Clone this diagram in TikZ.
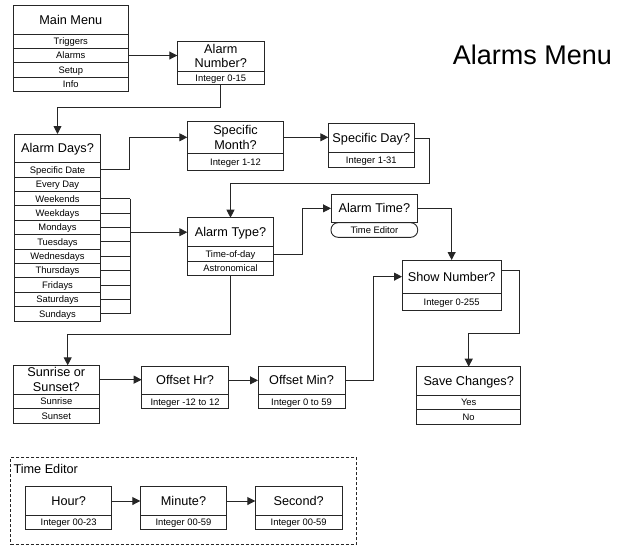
\documentclass[tikz,border=0pt]{standalone}
\usepackage{fontspec}
\setmainfont{Liberation Sans}
\usetikzlibrary{arrows.meta,calc}
\tikzset{
 base/.style={draw=black!85, line width=0.9pt, inner sep=0pt, outer sep=0pt, anchor=north west, align=center},
 ttl/.style={base, font=\fontsize{12.7}{14.5}\selectfont},
 ttl1/.style={ttl, text height=9.1pt, text depth=0pt},
 rw/.style={base, font=\fontsize{9.4}{11}\selectfont, text height=6.7pt, text depth=0pt},
 conn/.style={draw=black!85, line width=0.9pt},
 arr/.style={conn, -{Triangle[length=8pt,width=8pt]}},
}
\begin{document}
\begin{tikzpicture}[x=1pt,y=-1pt]
\useasboundingbox (0,0) rectangle (627,550);
% title
\node[font=\fontsize{27}{30}\selectfont, inner sep=0pt, anchor=base west] (title) at (452.7,64.3) {Alarms Menu};
% Main Menu
\node[ttl1, minimum width=115pt, minimum height=28.7pt] (mm) at (13.3,5.3) {Main Menu};
\node[rw, minimum width=115pt, minimum height=14.33pt] (mm1) at (mm.south west) {Triggers};
\node[rw, minimum width=115pt, minimum height=14.33pt] (mm2) at (mm1.south west) {Alarms};
\node[rw, minimum width=115pt, minimum height=14.33pt] (mm3) at (mm2.south west) {Setup};
\node[rw, minimum width=115pt, minimum height=14.33pt] (mm4) at (mm3.south west) {Info};
% Alarm Number
\node[ttl, minimum width=87pt, minimum height=29.7pt] (an) at (177.3,41.3) {Alarm\\Number?};
\node[rw, minimum width=87pt, minimum height=13.7pt] (an1) at (an.south west) {Integer 0-15};
% Alarm Days
\node[ttl1, minimum width=86.4pt, minimum height=28.7pt] (ad) at (14.3,134) {Alarm Days?};
\node[rw, minimum width=86.4pt, minimum height=14.39pt] (ad1) at (ad.south west) {Specific Date};
\node[rw, minimum width=86.4pt, minimum height=14.39pt] (ad2) at (ad1.south west) {Every Day};
\node[rw, minimum width=86.4pt, minimum height=14.39pt] (ad3) at (ad2.south west) {Weekends};
\node[rw, minimum width=86.4pt, minimum height=14.39pt] (ad4) at (ad3.south west) {Weekdays};
\node[rw, minimum width=86.4pt, minimum height=14.39pt] (ad5) at (ad4.south west) {Mondays};
\node[rw, minimum width=86.4pt, minimum height=14.39pt] (ad6) at (ad5.south west) {Tuesdays};
\node[rw, minimum width=86.4pt, minimum height=14.39pt] (ad7) at (ad6.south west) {Wednesdays};
\node[rw, minimum width=86.4pt, minimum height=14.39pt] (ad8) at (ad7.south west) {Thursdays};
\node[rw, minimum width=86.4pt, minimum height=14.39pt] (ad9) at (ad8.south west) {Fridays};
\node[rw, minimum width=86.4pt, minimum height=14.39pt] (ad10) at (ad9.south west) {Saturdays};
\node[rw, minimum width=86.4pt, minimum height=14.39pt] (ad11) at (ad10.south west) {Sundays};
% Specific Month
\node[ttl, minimum width=96.4pt, minimum height=32pt] (sm) at (187.3,121.3) {Specific\\Month?};
\node[rw, minimum width=96.4pt, minimum height=16.7pt] (sm1) at (sm.south west) {Integer 1-12};
% Specific Day
\node[ttl1, minimum width=86pt, minimum height=29pt] (sd) at (328.3,123.7) {Specific Day?};
\node[rw, minimum width=86pt, minimum height=15pt] (sd1) at (sd.south west) {Integer 1-31};
% Alarm Type
\node[ttl1, minimum width=86.4pt, minimum height=29pt] (at) at (187.3,217.7) {Alarm Type?};
\node[rw, minimum width=86.4pt, minimum height=14.6pt] (at1) at (at.south west) {Time-of-day};
\node[rw, minimum width=86.4pt, minimum height=14pt] (at2) at (at1.south west) {Astronomical};
% Alarm Time
\node[ttl1, minimum width=86.7pt, minimum height=28.7pt] (atm) at (331,194) {Alarm Time?};
\node[rw, rounded corners=7pt, minimum width=86.7pt, minimum height=14.6pt] (atm1) at (atm.south west) {Time Editor};
% Show Number
\node[ttl1, minimum width=99.3pt, minimum height=33.3pt] (sn) at (402,260) {Show Number?};
\node[rw, minimum width=99.3pt, minimum height=17pt] (sn1) at (sn.south west) {Integer 0-255};
% Save Changes
\node[ttl1, minimum width=104pt, minimum height=28.6pt] (sc) at (416.7,366.7) {Save Changes?};
\node[rw, minimum width=104pt, minimum height=14.5pt] (sc1) at (sc.south west) {Yes};
\node[rw, minimum width=104pt, minimum height=14.5pt] (sc2) at (sc1.south west) {No};
% Sunrise or Sunset
\node[ttl, minimum width=86pt, minimum height=28.7pt] (ss) at (13.3,365.3) {Sunrise or\\Sunset?};
\node[rw, minimum width=86pt, minimum height=14.3pt] (ss1) at (ss.south west) {Sunrise};
\node[rw, minimum width=86pt, minimum height=15.3pt] (ss2) at (ss1.south west) {Sunset};
% Offsets
\node[ttl1, minimum width=86.6pt, minimum height=28.7pt] (oh) at (141.7,366) {Offset Hr?};
\node[rw, minimum width=86.6pt, minimum height=14pt] (oh1) at (oh.south west) {Integer -12 to 12};
\node[ttl1, minimum width=87pt, minimum height=28.7pt] (om) at (258,366) {Offset Min?};
\node[rw, minimum width=87pt, minimum height=14pt] (om1) at (om.south west) {Integer 0 to 59};
% Time Editor group
\node[base, dashed, dash pattern=on 3pt off 2pt, minimum width=346pt, minimum height=86.6pt] (teframe) at (10.7,457.7) {};
\node[font=\fontsize{12.7}{14}\selectfont, inner sep=0pt, anchor=base west] (telabel) at (13.3,473.8) {Time Editor};
\node[ttl1, minimum width=86pt, minimum height=28.6pt] (hr) at (25.7,486.7) {Hour?};
\node[rw, minimum width=86pt, minimum height=14.4pt] (hr1) at (hr.south west) {Integer 00-23};
\node[ttl1, minimum width=86.4pt, minimum height=28.6pt] (mi) at (140.3,486.7) {Minute?};
\node[rw, minimum width=86.4pt, minimum height=14.4pt] (mi1) at (mi.south west) {Integer 00-59};
\node[ttl1, minimum width=86.7pt, minimum height=28.6pt] (se) at (255.3,486.7) {Second?};
\node[rw, minimum width=86.7pt, minimum height=14.4pt] (se1) at (se.south west) {Integer 00-59};
% bend coordinates
\coordinate (k5) at (429,183.3);
\coordinate (k9) at (67.7,334.7);
\coordinate (k13) at (519,333.3);
\coordinate (bx) at (130,0);
% connectors
\draw[arr] (mm2.east) -- (an.west |- mm2.east);
\draw[arr] (an1.south) -- ++(0,22.6) -| (ad.north);
\draw[arr] (ad1.east) -- ++(28.6,0) |- (sm.west);
\draw[arr] (sm.east) -- (sd.west |- sm.east);
\draw[arr] (sd.east) -| (k5) -| (at.north);
\foreach \i in {3,...,11} \draw[conn] (ad\i.east) -- (ad\i.east -| bx);
\draw[conn] (ad3.east -| bx) -- (ad11.east -| bx);
\draw[arr] (bx |- at.west) -- (at.west);
\draw[arr] (at1.east) -- ++(29,0) |- (atm.west);
\draw[arr] (atm.east) -| (sn.north);
\draw[arr] (at2.south) |- (k9) -- (k9 |- ss.north);
\draw[arr] (ss.east) -- (oh.west |- ss.east);
\draw[arr] (oh.east) -- (om.west);
\draw[arr] (om.east) -- ++(28.3,0) |- (sn.west);
\draw[arr] ($(sn.east)+(0,-6)$) -| (k13) -| (sc.north);
\draw[arr] (hr.east) -- (mi.west);
\draw[arr] (mi.east) -- (se.west);
\end{tikzpicture}
\end{document}
